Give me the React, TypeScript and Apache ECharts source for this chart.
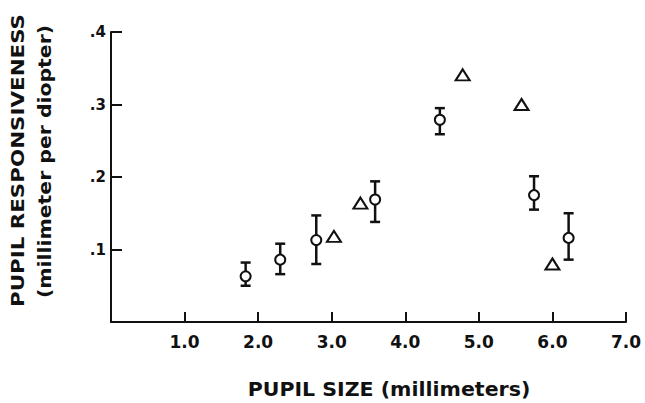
import { useEffect, useRef } from 'react';
import * as echarts from 'echarts';

// Circles (with error bars): pupil size (mm), responsiveness, lower and upper bar ends
const circleX = [1.83, 2.3, 2.79, 3.59, 4.47, 5.75, 6.22];
const circleY = [0.063, 0.086, 0.113, 0.169, 0.279, 0.175, 0.116];
const circleLow = [0.05, 0.066, 0.08, 0.138, 0.259, 0.155, 0.086];
const circleHigh = [0.082, 0.108, 0.147, 0.194, 0.295, 0.201, 0.15];

// Triangles (no error bars)
const triangleX = [3.03, 3.39, 4.78, 5.58, 6.0];
const triangleY = [0.118, 0.164, 0.341, 0.3, 0.08];

const xTickLabels = ['', '1.0', '2.0', '3.0', '4.0', '5.0', '6.0', '7.0'];
const yTickLabels = ['', '.1', '.2', '.3', '.4'];

const yTitle1 = 'PUPIL RESPONSIVENESS';
const yTitle2 = '(millimeter per diopter)';
const xTitle = 'PUPIL SIZE (millimeters)';

const INK = '#111';
const FONT = '"DejaVu Sans", "Liberation Sans", sans-serif';

export default function App() {
  const ref = useRef<HTMLDivElement>(null);

  useEffect(() => {
    if (!ref.current) return;
    const chart = echarts.init(ref.current, undefined, { renderer: 'svg' });

    const errData = circleX.map((x, i) => [x, circleLow[i], circleHigh[i]]);

    chart.setOption({
      animation: false,
      backgroundColor: '#fff',
      grid: { left: 111, right: 19, top: 32, bottom: 81, containLabel: false },
      xAxis: {
        type: 'value',
        min: 0,
        max: 7,
        interval: 1,
        axisLine: { show: true, lineStyle: { color: INK, width: 2 } },
        axisTick: { show: true, inside: true, length: 10, lineStyle: { color: INK, width: 2 } },
        splitLine: { show: false },
        axisLabel: {
          margin: 11,
          color: INK,
          fontFamily: FONT,
          fontWeight: 'bold',
          fontSize: 17,
          formatter: (v: number) => xTickLabels[Math.round(v)] ?? '',
        },
      },
      yAxis: {
        type: 'value',
        min: 0,
        max: 0.4,
        interval: 0.1,
        axisLine: { show: true, lineStyle: { color: INK, width: 2 } },
        axisTick: { show: true, inside: true, length: 11, lineStyle: { color: INK, width: 2 } },
        splitLine: { show: false },
        axisLabel: {
          margin: 5,
          color: INK,
          fontFamily: FONT,
          fontWeight: 'bold',
          fontSize: 15,
          formatter: (v: number) => yTickLabels[Math.round(v * 10)] ?? '',
        },
      },
      series: [
        {
          type: 'custom',
          z: 2,
          silent: true,
          data: errData,
          encode: { x: 0, y: [1, 2] },
          renderItem: (_params: any, api: any) => {
            const x = api.value(0);
            const pLo = api.coord([x, api.value(1)]);
            const pHi = api.coord([x, api.value(2)]);
            const hw = 5;
            const st = { stroke: INK, lineWidth: 2.5 };
            return {
              type: 'group',
              children: [
                { type: 'line', shape: { x1: pLo[0], y1: pLo[1], x2: pHi[0], y2: pHi[1] }, style: st },
                { type: 'line', shape: { x1: pLo[0] - hw, y1: pLo[1], x2: pLo[0] + hw, y2: pLo[1] }, style: st },
                { type: 'line', shape: { x1: pHi[0] - hw, y1: pHi[1], x2: pHi[0] + hw, y2: pHi[1] }, style: st },
              ],
            };
          },
        },
        {
          type: 'scatter',
          z: 3,
          silent: true,
          symbol: 'circle',
          symbolSize: 10,
          itemStyle: { color: '#fff', borderColor: INK, borderWidth: 2, opacity: 1 },
          data: circleX.map((x, i) => [x, circleY[i]]),
        },
        {
          type: 'scatter',
          z: 3,
          silent: true,
          symbol: 'triangle',
          symbolSize: [14, 11],
          itemStyle: { color: '#fff', borderColor: INK, borderWidth: 2, opacity: 1 },
          data: triangleX.map((x, i) => [x, triangleY[i]]),
        },
      ],
      graphic: [
        {
          type: 'text',
          x: 18.5,
          y: 160.5,
          rotation: Math.PI / 2,
          scaleX: 1.19,
          style: {
            text: yTitle1,
            fill: INK,
            font: `bold 18px ${FONT}`,
            textAlign: 'center',
            textVerticalAlign: 'middle',
          },
        },
        {
          type: 'text',
          x: 45.5,
          y: 161.5,
          rotation: Math.PI / 2,
          scaleX: 1.2,
          style: {
            text: yTitle2,
            fill: INK,
            font: `bold 17px ${FONT}`,
            textAlign: 'center',
            textVerticalAlign: 'middle',
          },
        },
        {
          type: 'text',
          x: 389,
          y: 390,
          scaleX: 1.08,
          style: {
            text: xTitle,
            fill: INK,
            font: `bold 19px ${FONT}`,
            textAlign: 'center',
            textVerticalAlign: 'middle',
          },
        },
      ],
    });

    return () => chart.dispose();
  }, []);

  return (
    <div
      ref={ref}
      style={{ position: 'fixed', left: 0, top: 0, width: 645, height: 403, background: '#fff' }}
    />
  );
}
